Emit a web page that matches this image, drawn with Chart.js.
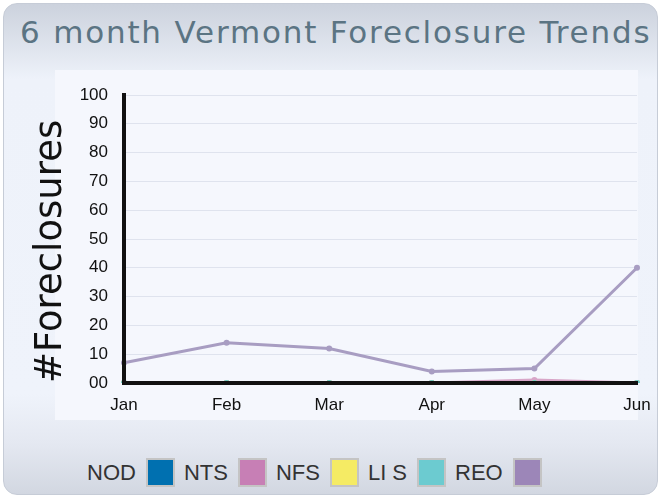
<!DOCTYPE html>
<html>
<head>
<meta charset="utf-8">
<script src="https://cdn.jsdelivr.net/npm/chart.js@4.4.1/dist/chart.umd.min.js"></script>
<style>
  body { margin: 0; background: #fff; width: 665px; height: 500px; overflow: hidden; }
  .panel {
    position: absolute; left: 3px; top: 3px; width: 653px; height: 490px;
    border: 1px solid #c6ccd7; border-radius: 14px;
    background: linear-gradient(to bottom, #ccd2dd 0px, #e2e7f0 50px, #eef2fa 75px, #eff3fb 390px, #e4e8f1 440px, #d2d7e1 100%);
  }
  .inner { position: absolute; left: 55px; top: 70px; width: 583px; height: 350px; background: #f5f7fd; }
  .title {
    position: absolute; left: 20px; top: 14px; font-family: "DejaVu Sans", sans-serif;
    font-size: 31px; color: #5b7483; white-space: nowrap; letter-spacing: 1.8px;
  }
  #chart { position: absolute; left: 0; top: 60px; }
  .legend {
    position: absolute; left: 87px; top: 458px; display: flex; align-items: center;
    font-family: "Liberation Sans", Arial, sans-serif; font-size: 22px; color: #333;
  }
  .legend .box { width: 25px; height: 25px; border: 2px solid #c4c4c4; margin: 0 9px 0 10px; }
</style>
</head>
<body>
<div class="panel"></div>
<div class="inner"></div>
<div class="title">6 month Vermont Foreclosure Trends</div>
<canvas id="chart" width="665" height="358"></canvas>
<div class="legend" id="legend"></div>
<script>
const months = ['Jan', 'Feb', 'Mar', 'Apr', 'May', 'Jun'];
const seriesNames = ['NOD', 'NTS', 'NFS', 'LIS', 'REO'];
const seriesColors = ['#0070b0', '#c77fb5', '#f5eb64', '#6ccbd0', '#9c86b8'];
const lineColors = ['#0070b0', '#d8a6c8', '#f5eb64', '#6ccbd0', '#a89dc2'];
const nod = [0, 0, 0, 0, 0, 0];
const nts = [0, 0, 0, 0, 1, 0];
const nfs = [0, 0, 0, 0, 0, 0];
const lis = [0, 0, 0, 0, 0, 0];
const reo = [7, 14, 12, 4, 5, 40];
const yTickLabels = ['00', '10', '20', '30', '40', '50', '60', '70', '80', '90', '100'];

const values = [nod, nts, nfs, lis, reo];

// legend: text first, then the colour box
const legend = document.getElementById('legend');
seriesNames.forEach((name, i) => {
  const t = document.createElement('span');
  t.textContent = name === 'LIS' ? 'LI S' : name;
  legend.appendChild(t);
  const b = document.createElement('span');
  b.className = 'box';
  b.style.background = seriesColors[i];
  legend.appendChild(b);
});

const ctx = document.getElementById('chart').getContext('2d');
new Chart(ctx, {
  type: 'line',
  data: {
    labels: months,
    datasets: seriesNames.map((name, i) => ({
      label: name,
      data: values[i],
      borderColor: lineColors[i],
      backgroundColor: lineColors[i],
      borderWidth: 3,
      pointRadius: 1.5,
      pointHoverRadius: 1.5,
      tension: 0,
      order: seriesNames.length - i
    }))
  },
  options: {
    responsive: false,
    animation: false,
    layout: { padding: { top: 35, right: 28, left: 0, bottom: 0 } },
    plugins: { legend: { display: false }, tooltip: { enabled: false } },
    scales: {
      x: {
        grid: { display: true, color: 'rgba(0,0,0,0)', drawTicks: false },
        border: { display: true, color: '#111', width: 4, z: 1 },
        ticks: {
          color: '#111', padding: 12,
          font: { family: 'Liberation Sans', size: 17 },
          maxRotation: 0, autoSkip: false
        },
        afterFit: s => { s.height = 35; }
      },
      y: {
        min: 0, max: 100,
        grid: { color: '#dfe3ee', lineWidth: 1, drawTicks: false },
        border: { display: true, color: '#111', width: 4, z: 1 },
        ticks: {
          stepSize: 10, padding: 16, color: '#111',
          font: { family: 'Liberation Sans', size: 17 },
          callback: (v, i) => yTickLabels[i]
        },
        title: {
          display: true, text: '#Foreclosures', color: '#111', align: 'start',
          font: { family: 'DejaVu Sans', size: 37 },
          padding: { top: 29, bottom: 0 }
        },
        afterFit: s => { s.width = 124; }
      }
    }
  }
});
</script>
</body>
</html>
